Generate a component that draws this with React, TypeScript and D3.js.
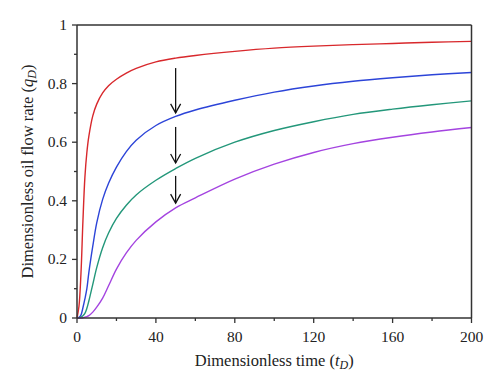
import React from "react";
import * as d3 from "d3";

const tValues = [0, 1, 2, 3, 4, 5, 6, 8, 10, 13, 16, 20, 25, 30, 40, 50, 60, 80, 100, 120, 140, 160, 180, 200];
const redSeries = [0, 0.04, 0.15, 0.33, 0.48, 0.565, 0.62, 0.69, 0.73, 0.768, 0.793, 0.815, 0.836, 0.852, 0.874, 0.887, 0.896, 0.91, 0.921, 0.928, 0.933, 0.937, 0.941, 0.944];
const blueSeries = [0, 0.002, 0.01, 0.035, 0.065, 0.1, 0.155, 0.245, 0.325, 0.405, 0.46, 0.515, 0.568, 0.607, 0.657, 0.688, 0.71, 0.743, 0.771, 0.792, 0.808, 0.82, 0.83, 0.838];
const greenSeries = [0, 0, 0.003, 0.008, 0.016, 0.033, 0.058, 0.115, 0.172, 0.24, 0.29, 0.34, 0.385, 0.42, 0.47, 0.51, 0.545, 0.6, 0.64, 0.67, 0.695, 0.713, 0.728, 0.741];
const purpleSeries = [0, 0, 0, 0.001, 0.003, 0.005, 0.008, 0.02, 0.037, 0.068, 0.11, 0.167, 0.222, 0.265, 0.328, 0.376, 0.41, 0.474, 0.525, 0.565, 0.595, 0.617, 0.635, 0.65];
const seriesColors = ["#d8282c", "#2c44d8", "#23977a", "#a444e0"];
const xTicks = [0, 40, 80, 120, 160, 200];
const xMinor = [20, 60, 100, 140, 180];
const yTicks = [0, 0.2, 0.4, 0.6, 0.8, 1];
const yTickLabels = ["0", "0.2", "0.4", "0.6", "0.8", "1"];
const yMinor = [0.1, 0.3, 0.5, 0.7, 0.9];
// arrows at t = 50: [from q, to q]
const arrowT = 50;
const arrowFrom = [0.853, 0.652, 0.485];
const arrowTo = [0.7, 0.529, 0.392];

export default function App() {
  const W = 500, H = 388;
  const left = 77, right = 471.5, top = 25, bottom = 318;
  const x = d3.scaleLinear().domain([0, 200]).range([left, right]);
  const y = d3.scaleLinear().domain([0, 1]).range([bottom, top]);
  const all = [redSeries, blueSeries, greenSeries, purpleSeries];
  const line = d3
    .line<number>()
    .x((_, i) => x(tValues[i]))
    .y((d) => y(d))
    .curve(d3.curveCatmullRom.alpha(0.5));
  const font = "'Liberation Serif', 'Times New Roman', serif";
  const axisColor = "#333";
  return (
    <svg width={W} height={H} style={{ position: "absolute", left: 0, top: 0, background: "#fff" }}>
      <rect x={0} y={0} width={W} height={H} fill="#fff" />
      {all.map((s, k) => (
        <path key={k} d={line(s) || ""} fill="none" stroke={seriesColors[k]} strokeWidth={1.4} />
      ))}
      {/* frame */}
      <line x1={left} x2={right} y1={top} y2={top} stroke={axisColor} strokeWidth={1.5} />
      <line x1={right} x2={right} y1={top} y2={bottom} stroke={axisColor} strokeWidth={1.5} />
      <line x1={left} x2={right} y1={bottom} y2={bottom} stroke={axisColor} strokeWidth={1.5} />
      <line x1={left} x2={left} y1={top} y2={bottom} stroke={axisColor} strokeWidth={1.5} />
      {xTicks.map((t) => (
        <g key={"xt" + t}>
          <line x1={x(t)} x2={x(t)} y1={bottom} y2={bottom + 5} stroke={axisColor} strokeWidth={1.3} />
          <text x={x(t)} y={bottom + 24} textAnchor="middle" fontFamily={font} fontSize={15.5} fill="#222">
            {t}
          </text>
        </g>
      ))}
      {xMinor.map((t) => (
        <line key={"xm" + t} x1={x(t)} x2={x(t)} y1={bottom} y2={bottom + 3} stroke={axisColor} strokeWidth={1.3} />
      ))}
      {yTicks.map((v, i) => (
        <g key={"yt" + v}>
          <line x1={left - 5} x2={left} y1={y(v)} y2={y(v)} stroke={axisColor} strokeWidth={1.3} />
          <text x={left - 10} y={y(v) + 5} textAnchor="end" fontFamily={font} fontSize={15.5} fill="#222">
            {yTickLabels[i]}
          </text>
        </g>
      ))}
      {yMinor.map((v) => (
        <line key={"ym" + v} x1={left - 3} x2={left} y1={y(v)} y2={y(v)} stroke={axisColor} strokeWidth={1.3} />
      ))}
      {arrowFrom.map((f, i) => {
        const ax = x(arrowT);
        const y1 = y(f);
        const y2 = y(arrowTo[i]);
        return (
          <g key={"ar" + i} stroke="#111" strokeWidth={1.3} fill="none">
            <line x1={ax} x2={ax} y1={y1} y2={y2} />
            <polyline points={`${ax - 5},${y2 - 9} ${ax},${y2} ${ax + 5},${y2 - 9}`} />
          </g>
        );
      })}
      <text x={(left + right) / 2} y={366} textAnchor="middle" fontFamily={font} fontSize={16.5} fill="#222">
        Dimensionless time (<tspan fontStyle="italic">t</tspan>
        <tspan fontStyle="italic" fontSize={12} dy={3}>D</tspan>
        <tspan dy={-3}>)</tspan>
      </text>
      <text
        transform={`translate(33, ${(top + bottom) / 2}) rotate(-90)`}
        textAnchor="middle"
        fontFamily={font}
        fontSize={16.5}
        fill="#222"
      >
        Dimensionless oil flow rate (<tspan fontStyle="italic">q</tspan>
        <tspan fontStyle="italic" fontSize={12} dy={3}>D</tspan>
        <tspan dy={-3}>)</tspan>
      </text>
    </svg>
  );
}
